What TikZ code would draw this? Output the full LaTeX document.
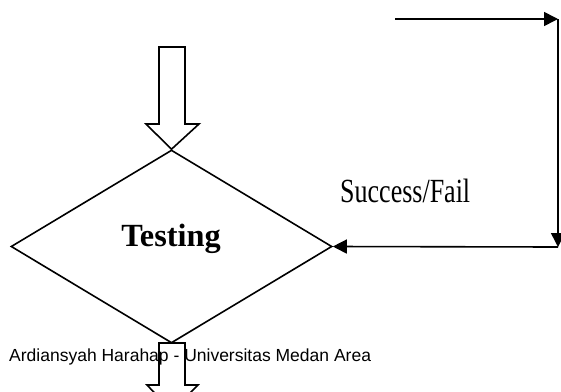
\documentclass[tikz,border=0pt]{standalone}
\usepackage{fontspec}
\setmainfont{Liberation Serif}
\newfontfamily\arialfont{Liberation Sans}
\usetikzlibrary{shapes.geometric,arrows.meta}
\begin{document}
\begin{tikzpicture}[x=1pt,y=-1pt,
  line/.style={line width=1.6pt, line join=miter},
  flow/.style={line width=1.6pt, -{Triangle[length=14pt,width=14pt]}},
  blockarrow/.style={line width=1.6pt, line join=miter}]
\useasboundingbox (0,0) rectangle (561,391);
\clip (0,0) rectangle (561,391);
% diamond
\node[diamond, draw, line, minimum width=321pt, minimum height=193pt, inner sep=0pt] (test) at (171.5,246.5) {};
\node[anchor=base, font=\fontsize{32.3}{36}\selectfont\bfseries] (testlbl) at (171,246) {Testing};
% label
\node[anchor=base west, font=\fontsize{26}{30}\selectfont, inner sep=0pt] (sf) at (340,202) {\scalebox{1}[1.3]{Success/Fail}};
% footer
\node[anchor=base west, font=\arialfont\fontsize{17.5}{20}\selectfont, inner sep=0pt] (foot) at (9,361) {Ardiansyah Harahap - Universitas Medan Area};
% top block arrow
\draw[blockarrow] (test.north) -- (146,124) -- (159,124) -- (159,47) -- (185,47) -- (185,124) -- (199,124) -- cycle;
% bottom block arrow
\draw[blockarrow] (159,343) -- (185,343) -- (185,385) -- (198,385) -- (172,411) -- (147,385) -- (159,385) -- cycle;
% feedback connectors
\coordinate (s) at (395,19);
\coordinate (c1) at (558,19);
\coordinate (c2) at (558,247);
\draw[flow] (s) -- (c1);
\draw[flow] (c1) -- (c2);
\draw[flow] (c2) -- (test.east);
\end{tikzpicture}
\end{document}
